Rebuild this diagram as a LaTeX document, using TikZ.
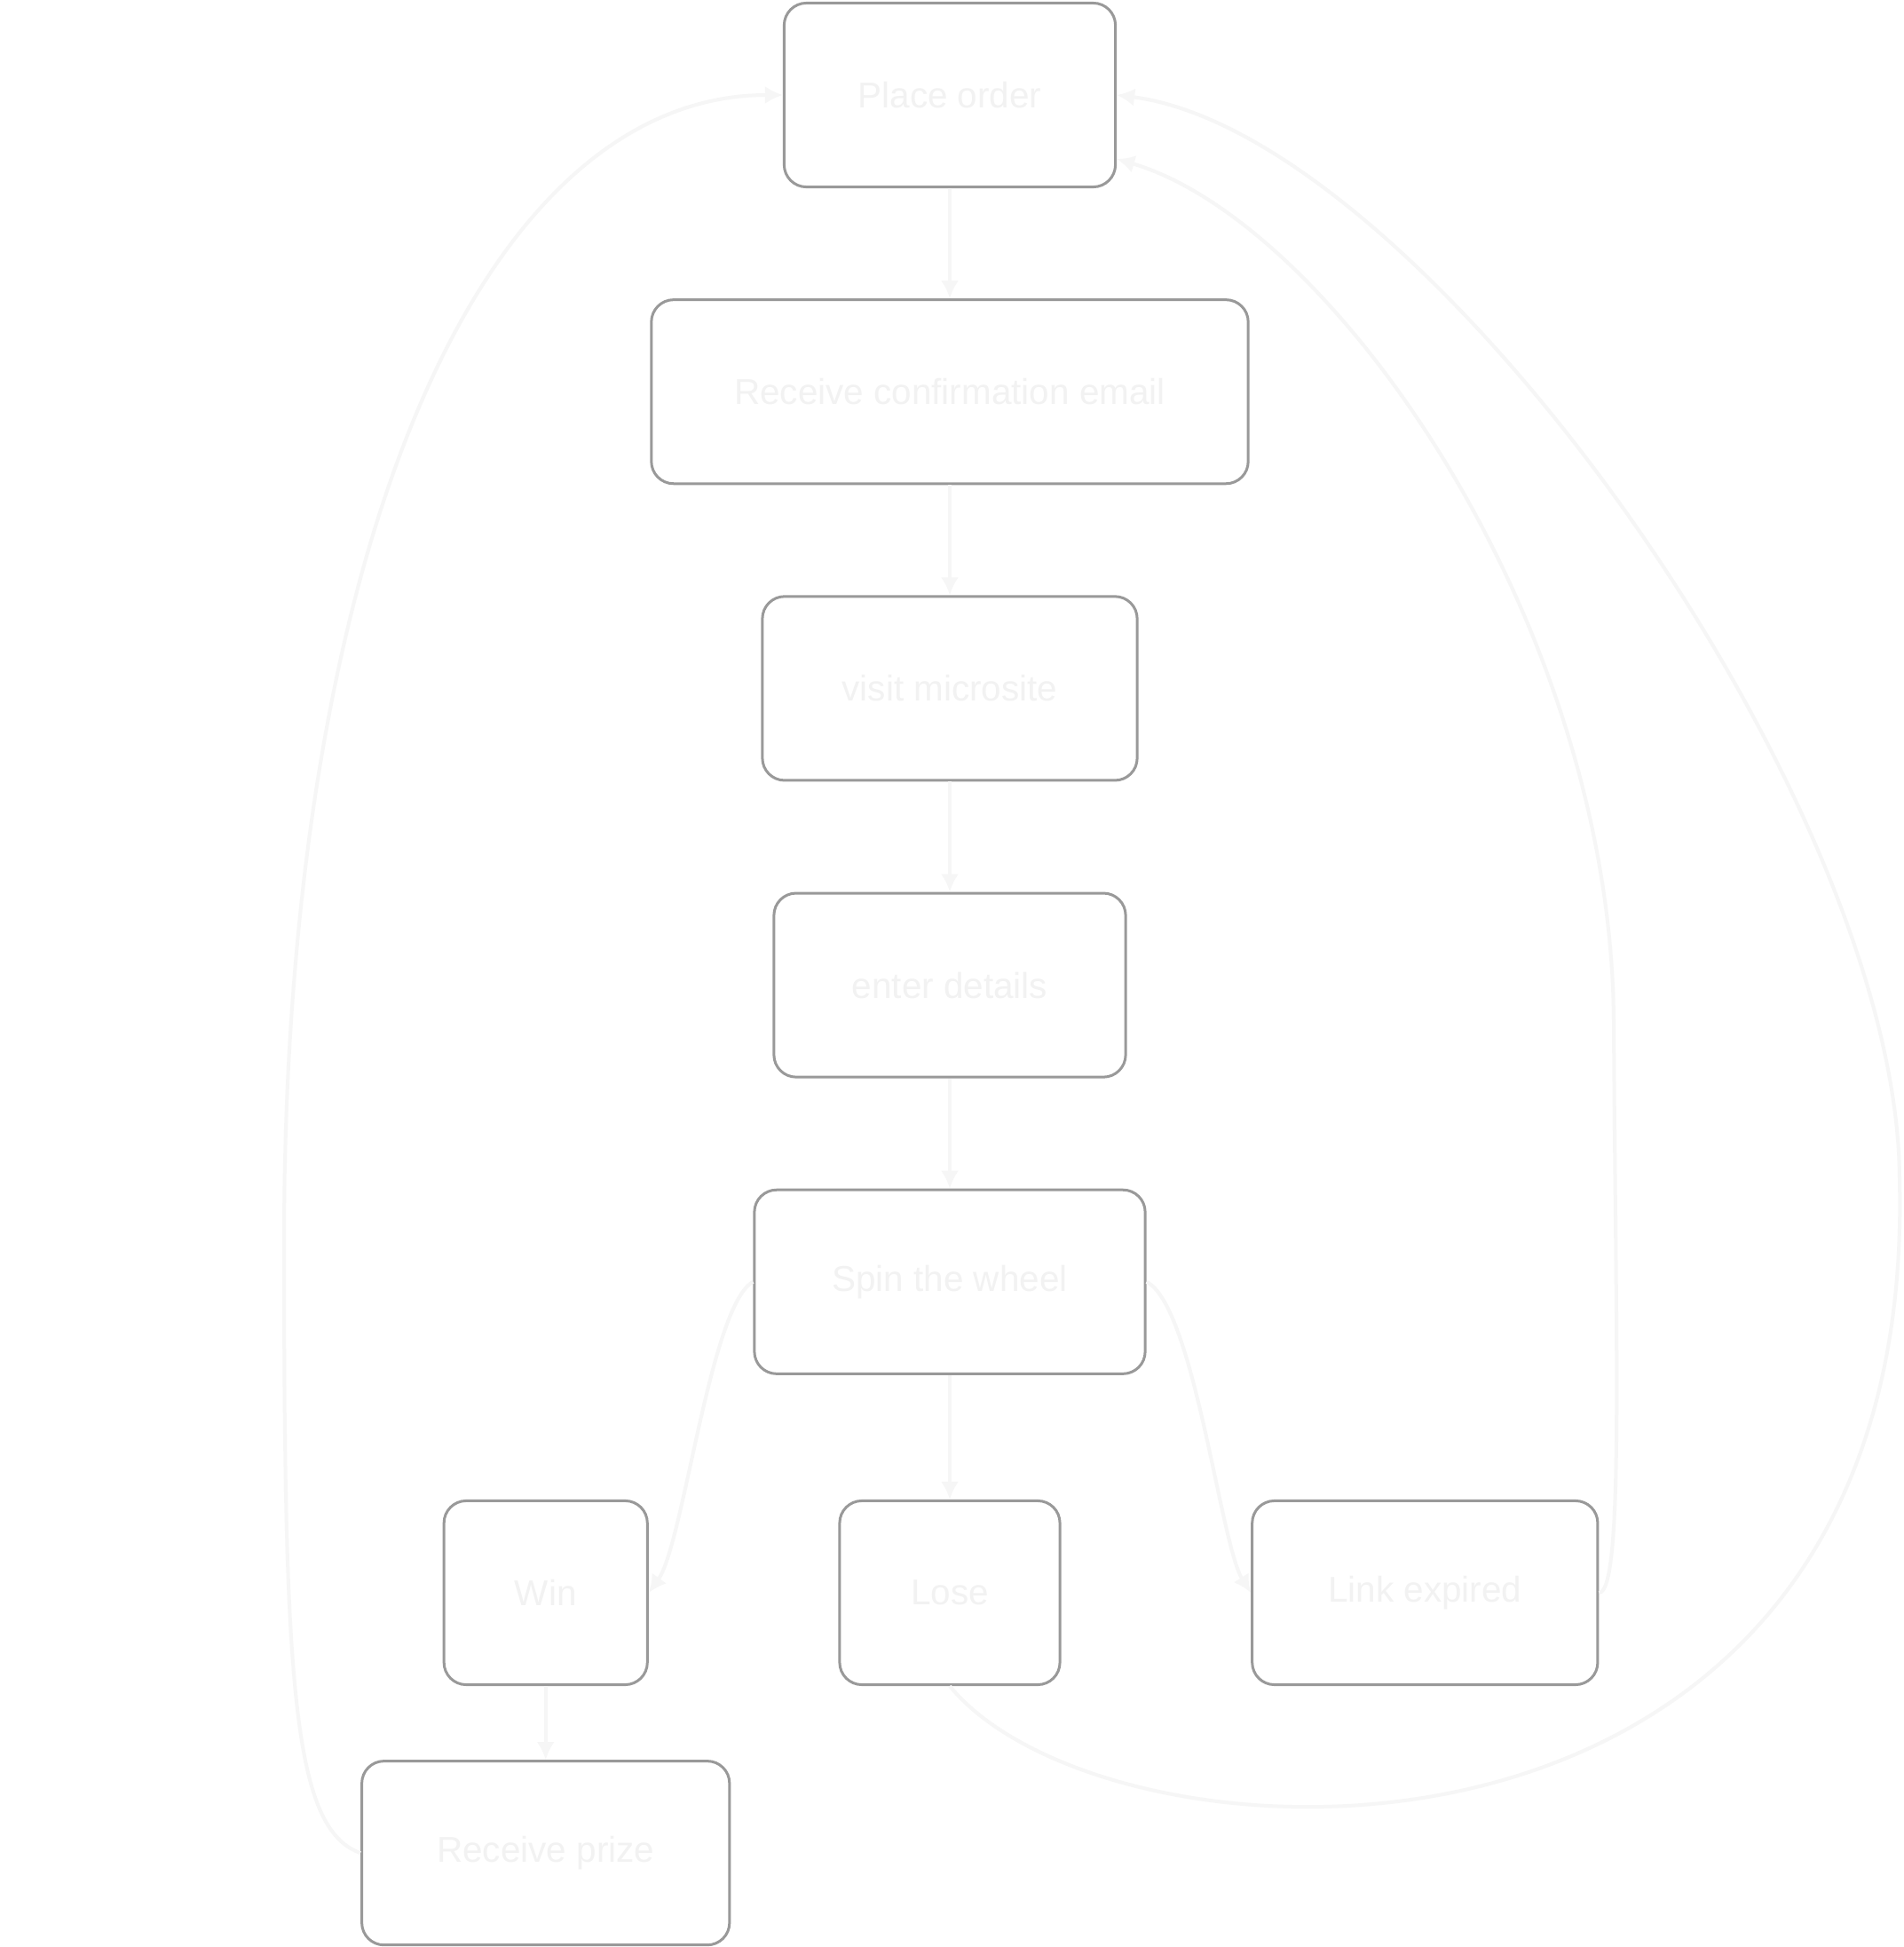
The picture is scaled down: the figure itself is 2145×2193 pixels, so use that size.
\documentclass[tikz,border=0pt]{standalone}
\usepackage{fontspec}
\setmainfont{Liberation Sans}
\usetikzlibrary{arrows.meta,positioning}
\definecolor{boxgray}{RGB}{153,153,153}
\definecolor{ghost}{RGB}{242,242,242}
\definecolor{ghostline}{RGB}{246,246,246}
\tikzset{%
  >={Latex[width=2mm,length=2mm]},
  % Specifications for style of nodes:
      base/.style = {rectangle, rounded corners=0.25cm, draw=boxgray,
                     line width=0.03cm, minimum height=2.07cm,
                     text centered, text=ghost, fill=white,
                     font=\fontsize{11.5}{14}\selectfont},
   stepbox/.style = {base},
   outcome/.style = {base},
      flow/.style = {->, draw=ghostline, line width=0.04cm},
}
\begin{document}
\begin{tikzpicture}[x=0.01cm, y=-0.01cm, node distance=3.34cm]
  \useasboundingbox[fill=white] (0,0) rectangle (2145,2193);
  % Specification of nodes (position, etc.)
  \node (placeOrder)   [stepbox, minimum width=3.73cm] at (1070,107) {Place order};
  \node (confirmEmail) [stepbox, minimum width=6.72cm, below of=placeOrder] {Receive confirmation email};
  \node (visitSite)    [stepbox, minimum width=4.22cm, below of=confirmEmail] {visit microsite};
  \node (enterDetails) [stepbox, minimum width=3.96cm, below of=visitSite] {enter details};
  \node (spinWheel)    [stepbox, minimum width=4.40cm, below of=enterDetails] {Spin the wheel};
  \node (lose)         [outcome, minimum width=2.48cm, node distance=3.5cm, below of=spinWheel] {Lose};
  \node (win)          [outcome, minimum width=2.29cm, node distance=4.55cm, left of=lose] {Win};
  \node (linkExpired)  [outcome, minimum width=3.89cm, node distance=5.35cm, right of=lose] {Link expired};
  \node (receivePrize) [stepbox, minimum width=4.14cm, node distance=2.93cm, below of=win] {Receive prize};
  % Specification of lines between nodes specified above
  \draw[flow] (placeOrder) -- (confirmEmail);
  \draw[flow] (confirmEmail) -- (visitSite);
  \draw[flow] (visitSite) -- (enterDetails);
  \draw[flow] (enterDetails) -- (spinWheel);
  \draw[flow] (spinWheel.west) .. controls (800,1470) and (770,1740) .. (win.east);
  \draw[flow] (spinWheel) -- (lose);
  \draw[flow] (spinWheel.east) .. controls (1345,1470) and (1375,1740) .. (linkExpired.west);
  \draw[flow] (win) -- (receivePrize);
  % loops back to the start
  \draw[flow] (receivePrize.west) .. controls (330,2060) and (320,1900) .. (320,1400)
              .. controls (320,600) and (550,107) .. (placeOrder.west);
  \draw[flow] (lose.south) .. controls (1250,2120) and (2160,2160) .. (2140,1330)
              .. controls (2140,900) and (1600,150) .. (placeOrder.east);
  \draw[flow] (linkExpired.east) .. controls (1830,1793) and (1820,1500) .. (1818,1150)
              .. controls (1815,700) and (1500,250) .. ([yshift=-0.72cm]placeOrder.east);
\end{tikzpicture}
\end{document}
